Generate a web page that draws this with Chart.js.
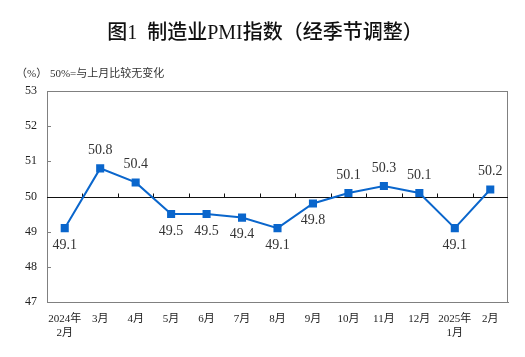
<!DOCTYPE html>
<html>
<head>
<meta charset="utf-8">
<script src="https://cdn.jsdelivr.net/npm/chart.js@4.4.1/dist/chart.umd.min.js"></script>
<style>
  html, body { margin: 0; padding: 0; background: #fff; }
  #wrap { position: relative; width: 525px; height: 357px; overflow: hidden; }
  #title { position: absolute; left: 0; top: 19px; width: 530px; text-align: center;
           font-family: "Liberation Serif", "Noto Sans CJK SC", serif; font-size: 20px; font-weight: 500; color: #111; line-height: 26px; }
  #sub { position: absolute; left: 16px; top: 66px; font-family: "Liberation Serif", "Noto Sans CJK SC", serif;
         font-size: 11px; color: #333; line-height: 14px; white-space: pre; }
  canvas { position: absolute; left: 0; top: 0; }
</style>
</head>
<body>
<div id="wrap">
  <canvas id="c" width="525" height="357"></canvas>
  <div id="title">图1&nbsp; 制造业PMI指数（经季节调整）</div>
  <div id="sub">（%） 50%=与上月比较无变化</div>
</div>
<script>
const categories = [["2024年", "2月"], "3月", "4月", "5月", "6月", "7月", "8月", "9月", "10月", "11月", "12月", ["2025年", "1月"], "2月"];
const pmiValues = [49.1, 50.8, 50.4, 49.5, 49.5, 49.4, 49.1, 49.8, 50.1, 50.3, 50.1, 49.1, 50.2];
const labelAbove = [false, true, true, false, false, false, false, false, true, true, true, false, true];
const yTicks = [47, 48, 49, 50, 51, 52, 53];
const baseline = 50;

const framePlugin = {
  id: 'frame',
  beforeDatasetsDraw(chart) {
    const { ctx, chartArea: a, scales: { x, y } } = chart;
    ctx.save();
    ctx.strokeStyle = '#808080';
    ctx.lineWidth = 1;
    ctx.strokeRect(Math.round(a.left) + 0.5, Math.round(a.top) + 0.5, Math.round(a.right - a.left) - 1, Math.round(a.bottom - a.top));
    // inward y ticks
    ctx.beginPath();
    yTicks.forEach(v => {
      const py = Math.round(y.getPixelForValue(v)) + 0.5;
      ctx.moveTo(a.left, py);
      ctx.lineTo(a.left + 4, py);
    });
    ctx.stroke();
    // baseline at 50
    const by = Math.round(y.getPixelForValue(baseline)) + 0.5;
    ctx.strokeStyle = '#111';
    ctx.beginPath();
    ctx.moveTo(a.left, by);
    ctx.lineTo(a.right, by);
    for (let i = 0; i < categories.length - 1; i++) {
      const bx = Math.round((x.getPixelForValue(i) + x.getPixelForValue(i + 1)) / 2) + 0.5;
      ctx.moveTo(bx, by);
      ctx.lineTo(bx, by - 4);
    }
    ctx.stroke();
    ctx.restore();
  },
  afterDatasetsDraw(chart) {
    const { ctx } = chart;
    const meta = chart.getDatasetMeta(0);
    ctx.save();
    ctx.font = '14px "Liberation Serif", serif';
    ctx.fillStyle = '#333';
    ctx.textAlign = 'center';
    ctx.textBaseline = 'middle';
    meta.data.forEach((pt, i) => {
      const dy = labelAbove[i] ? -18 : 17;
      ctx.fillText(pmiValues[i].toFixed(1), pt.x, pt.y + dy);
    });
    ctx.restore();
  }
};

new Chart(document.getElementById('c'), {
  type: 'line',
  data: {
    labels: categories,
    datasets: [{
      data: pmiValues,
      borderColor: '#0a66cc',
      backgroundColor: '#0a66cc',
      borderWidth: 2,
      pointStyle: 'rect',
      pointRadius: 4.3,
      pointHoverRadius: 4.3,
      tension: 0
    }]
  },
  options: {
    responsive: false,
    animation: false,
    events: [],
    layout: { padding: { top: 91, right: 17, left: 0, bottom: 0 } },
    plugins: { legend: { display: false }, tooltip: { enabled: false }, title: { display: false } },
    scales: {
      x: {
        offset: true,
        grid: { display: false, drawTicks: false },
        border: { display: true, color: '#808080' },
        ticks: {
          autoSkip: false, maxRotation: 0, minRotation: 0, padding: 10,
          color: '#222',
          font: { family: '"Liberation Serif", "Noto Sans CJK SC", serif', size: 11, lineHeight: 1.3 }
        },
        afterFit(s) { s.height = 55; }
      },
      y: {
        min: 47, max: 53,
        grid: { display: false, drawTicks: false },
        border: { display: true, color: '#808080' },
        ticks: {
          stepSize: 1, padding: 10, color: '#222',
          font: { family: '"Liberation Serif", serif', size: 12 }
        },
        afterFit(s) { s.width = 47; }
      }
    }
  },
  plugins: [framePlugin]
});
</script>
</body>
</html>
